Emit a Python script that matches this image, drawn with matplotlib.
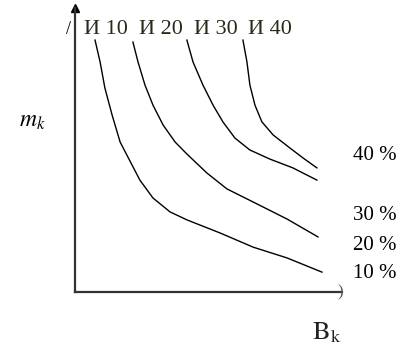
import matplotlib
matplotlib.use('Agg')
import matplotlib.pyplot as plt

plt.rcParams['font.family'] = ['Liberation Serif', 'DejaVu Serif']
plt.rcParams['mathtext.fontset'] = 'stix'

# curves m_k(B_k), arbitrary units (0..100 on both axes)
x_i10 = [7.5, 9.4, 11.2, 13.9, 16.9, 20.6, 24.3, 29.2, 35.6, 41.9, 54.3, 66.7, 79.4, 92.5]
y_i10 = [88.7, 81.0, 71.8, 62.3, 52.8, 46.1, 39.4, 33.1, 28.2, 25.4, 20.8, 15.8, 12.0, 7.0]

x_i20 = [21.7, 23.6, 26.2, 29.2, 33.0, 37.5, 41.9, 49.4, 56.9, 66.7, 79.4, 91.0]
y_i20 = [88.0, 81.0, 72.9, 65.8, 58.8, 52.8, 48.6, 41.9, 36.3, 31.7, 25.7, 19.4]

x_i30 = [41.9, 44.2, 47.9, 51.7, 55.4, 59.9, 65.5, 73.0, 81.6, 90.6]
y_i30 = [88.7, 81.0, 72.9, 65.8, 59.9, 54.2, 50.0, 46.8, 43.7, 39.4]

x_i40 = [62.9, 64.4, 65.5, 67.4, 70.0, 74.2, 80.5, 85.4, 90.6]
y_i40 = [88.7, 81.0, 72.9, 65.8, 59.9, 55.3, 50.7, 47.2, 43.7]

top_labels = ['И 10', 'И 20', 'И 30', 'И 40']
pct_labels = ['10 %', '20 %', '30 %', '40 %']

fig = plt.figure(figsize=(4.09, 3.5), dpi=100)
ax = fig.add_axes([75 / 409, 1 - 292 / 350, 267 / 409, 284 / 350])
ax.set_xlim(0, 100)
ax.set_ylim(0, 100)

for xs, ys in ((x_i10, y_i10), (x_i20, y_i20), (x_i30, y_i30), (x_i40, y_i40)):
    ax.plot(xs, ys, color='black', linewidth=1.0, solid_joinstyle='round')

for s in ('top', 'right'):
    ax.spines[s].set_visible(False)
for s in ('left', 'bottom'):
    ax.spines[s].set_linewidth(1.6)
    ax.spines[s].set_color('#333333')
ax.set_xticks([])
ax.set_yticks([])

# arrow head on the vertical axis
ax.plot(0, 1.0, marker='^', markersize=6, color='black',
        transform=ax.transAxes, clip_on=False)

# labels over the curves
top_x = [106, 161, 216, 270]
for lbl, px in zip(top_labels, top_x):
    fig.text(px / 409, 1 - 29 / 350, lbl, ha='center', va='center',
             fontsize=16, color='#2a2a1a')
fig.text(69 / 409, 1 - 29 / 350, '/', ha='center', va='center', fontsize=13)

# percentage labels on the right
pct_y = [274, 245, 216, 155]
for lbl, py in zip(pct_labels, pct_y):
    fig.text(353 / 409, 1 - py / 350, lbl, ha='left', va='center', fontsize=15)

fig.text(340 / 409, 1 - 292 / 350, ')', ha='center', va='center',
         fontsize=12, color='#555555')

fig.text(32 / 409, 1 - 122 / 350, r'$m_k$', ha='center', va='center', fontsize=17)
fig.text(327 / 409, 1 - 333 / 350, r'$\mathrm{B_k}$', ha='center', va='center',
         fontsize=19, color='#222222')

fig.savefig('out.png', dpi=100)
